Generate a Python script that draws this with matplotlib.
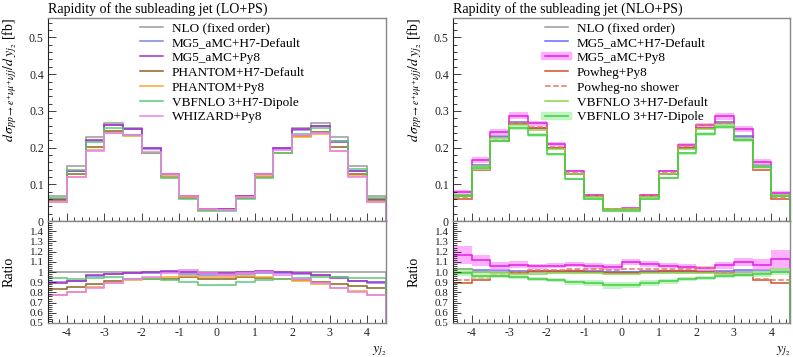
import numpy as np
import matplotlib
matplotlib.use('Agg')
import matplotlib.pyplot as plt
from matplotlib.lines import Line2D
from matplotlib.ticker import MultipleLocator, AutoMinorLocator, FuncFormatter

plt.rcParams['font.family'] = ['Liberation Serif', 'DejaVu Serif']
plt.rcParams['mathtext.fontset'] = 'stix'
plt.rcParams['axes.unicode_minus'] = False

# ---------------- data ----------------
edges = np.arange(-4.5, 4.51, 0.5)

nlo = [0.068, 0.150, 0.228, 0.268, 0.252, 0.198, 0.128, 0.067, 0.032,
       0.032, 0.067, 0.128, 0.198, 0.252, 0.268, 0.228, 0.150, 0.068]

# LO+PS panel
lo_mg5_h7 = [0.0612, 0.1365, 0.2189, 0.2626, 0.2495, 0.1960, 0.1280, 0.0657, 0.0310,
             0.0310, 0.0657, 0.1267, 0.1960, 0.2470, 0.2600, 0.2166, 0.1365, 0.0605]
lo_mg5_py8 = [0.0605, 0.1365, 0.2212, 0.2626, 0.2495, 0.1980, 0.1293, 0.0670, 0.0317,
              0.0317, 0.0670, 0.1293, 0.1980, 0.2495, 0.2600, 0.2143, 0.1365, 0.0612]
lo_phantom_h7 = [0.0564, 0.1275, 0.2006, 0.2439, 0.2344, 0.1841, 0.1190, 0.0637, 0.0298,
                 0.0298, 0.0637, 0.1203, 0.1841, 0.2318, 0.2412, 0.2006, 0.1290, 0.0571]
lo_phantom_py8 = [0.0530, 0.1200, 0.1938, 0.2385, 0.2318, 0.1861, 0.1216, 0.0643, 0.0304,
                  0.0304, 0.0643, 0.1216, 0.1841, 0.2293, 0.2358, 0.1915, 0.1215, 0.0530]
lo_vbfnlo_dip = [0.0639, 0.1395, 0.2143, 0.2546, 0.2344, 0.1841, 0.1178, 0.0603, 0.0278,
                 0.0278, 0.0603, 0.1178, 0.1841, 0.2369, 0.2546, 0.2166, 0.1410, 0.0639]
lo_whizard = [0.0524, 0.1200, 0.1915, 0.2385, 0.2344, 0.1881, 0.1267, 0.0683, 0.0317,
              0.0310, 0.0663, 0.1280, 0.1921, 0.2344, 0.2385, 0.1915, 0.1200, 0.0530]

# NLO+PS panel
nl_mg5_h7 = [0.0700, 0.1530, 0.2326, 0.2707, 0.2545, 0.2000, 0.1293, 0.0677, 0.0320,
             0.0320, 0.0677, 0.1293, 0.2000, 0.2545, 0.2707, 0.2326, 0.1530, 0.0694]
nl_mg5_py8 = [0.0796, 0.1673, 0.2417, 0.2868, 0.2659, 0.2099, 0.1370, 0.0710, 0.0336,
              0.0352, 0.0720, 0.1357, 0.2079, 0.2608, 0.2854, 0.2508, 0.1605, 0.0768]
nl_mg5_py8_err = [0.006, 0.008, 0.009, 0.009, 0.007, 0.005, 0.003, 0.002, 0.001,
                  0.001, 0.002, 0.003, 0.005, 0.007, 0.009, 0.009, 0.008, 0.006]
nl_powheg_py8 = [0.0605, 0.1380, 0.2189, 0.2653, 0.2545, 0.2000, 0.1293, 0.0670, 0.0317,
                 0.0317, 0.0670, 0.1293, 0.2000, 0.2520, 0.2626, 0.2212, 0.1380, 0.0605]
nl_powheg_nosh = [0.0626, 0.1410, 0.2212, 0.2680, 0.2570, 0.2020, 0.1318, 0.0690, 0.0326,
                  0.0330, 0.0690, 0.1318, 0.2039, 0.2621, 0.2680, 0.2234, 0.1395, 0.0626]
nl_vbfnlo_def = [0.0700, 0.1500, 0.2257, 0.2626, 0.2470, 0.1960, 0.1267, 0.0663, 0.0314,
                 0.0314, 0.0663, 0.1267, 0.1960, 0.2495, 0.2626, 0.2234, 0.1500, 0.0700]
nl_vbfnlo_dip = [0.0673, 0.1440, 0.2189, 0.2546, 0.2344, 0.1822, 0.1152, 0.0596, 0.0278,
                 0.0280, 0.0596, 0.1165, 0.1841, 0.2369, 0.2573, 0.2212, 0.1470, 0.0680]
nl_vbfnlo_dip_err = [0.002, 0.004, 0.005, 0.006, 0.005, 0.004, 0.003, 0.002, 0.001,
                     0.001, 0.002, 0.003, 0.004, 0.005, 0.006, 0.005, 0.004, 0.002]

GRAY = '#9a9a9a'
left_series = [
    ('NLO (fixed order)', nlo, GRAY, '-', None),
    ('MG5_aMC+H7-Default', lo_mg5_h7, '#8282e6', '-', None),
    ('MG5_aMC+Py8', lo_mg5_py8, '#a82fc8', '-', None),
    ('PHANTOM+H7-Default', lo_phantom_h7, '#8b6420', '-', None),
    ('PHANTOM+Py8', lo_phantom_py8, '#f0a830', '-', None),
    ('VBFNLO 3+H7-Dipole', lo_vbfnlo_dip, '#5ec878', '-', None),
    ('WHIZARD+Py8', lo_whizard, '#ec82ec', '-', None),
]
right_series = [
    ('NLO (fixed order)', nlo, GRAY, '-', None),
    ('MG5_aMC+H7-Default', nl_mg5_h7, '#6a6aff', '-', None),
    ('MG5_aMC+Py8', nl_mg5_py8, '#e020e0', '-', (nl_mg5_py8_err, '#ff90ff')),
    ('Powheg+Py8', nl_powheg_py8, '#d2502a', '-', None),
    ('Powheg-no shower', nl_powheg_nosh, '#e27a60', '--', None),
    ('VBFNLO 3+H7-Default', nl_vbfnlo_def, '#8cd24a', '-', None),
    ('VBFNLO 3+H7-Dipole', nl_vbfnlo_dip, '#44cc44', '-', (nl_vbfnlo_dip_err, '#a8f0a8')),
]

fig = plt.figure(figsize=(7.93, 3.57), dpi=100)

W, H = 793.0, 357.0


def add_axes(x0, x1, y0, y1):
    return fig.add_axes([x0 / W, 1 - y1 / H, (x1 - x0) / W, (y1 - y0) / H])


def style(ax):
    for s in ['top', 'right', 'bottom']:
        ax.spines[s].set_color('#888888')
        ax.spines[s].set_linewidth(1.0)
    ax.spines['left'].set_color('#222222')
    ax.spines['left'].set_linewidth(0.8)
    ax.tick_params(which='both', direction='in', top=False, right=False,
                   labelsize=8.5, colors='#222222', pad=3)
    ax.tick_params(which='major', length=6, width=0.6)
    ax.tick_params(which='minor', length=3, width=0.6)
    ax.xaxis.set_major_locator(MultipleLocator(1))
    ax.xaxis.set_minor_locator(AutoMinorLocator(5))
    ax.set_xlim(-4.5, 4.5)


def draw(x0, x1, series, title, leg_x, onefmt):
    axm = add_axes(x0, x1, 18, 221)
    axr = add_axes(x0, x1, 221, 323)
    style(axm)
    style(axr)
    ref = np.array(series[0][1])
    handles = []
    for lab, vals, col, ls, band in series:
        vals = np.array(vals)
        if band is not None:
            err, bcol = np.array(band[0]), band[1]
            axm.stairs(vals + err, edges, baseline=vals - err, fill=True,
                       color=bcol, alpha=0.7, lw=0)
            axr.stairs((vals + err) / ref, edges, baseline=(vals - err) / ref,
                       fill=True, color=bcol, alpha=0.7, lw=0)
            h = (Line2D([], [], color=bcol, lw=6, alpha=0.7),
                 Line2D([], [], color=col, lw=1.1, ls=ls))
        else:
            h = Line2D([], [], color=col, lw=1.1, ls=ls)
        axm.stairs(vals, edges, color=col, lw=1.1, ls=ls)
        axr.stairs(vals / ref, edges, color=col, lw=1.1, ls=ls)
        handles.append(h)

    axm.set_ylim(0, 0.553)
    axm.yaxis.set_major_locator(MultipleLocator(0.1))
    axm.yaxis.set_minor_locator(AutoMinorLocator(5))
    axm.yaxis.set_major_formatter(FuncFormatter(lambda v, p: '0' if abs(v) < 1e-9 else f'{v:.1f}'))
    axm.tick_params(axis='x', labelbottom=False)
    axm.set_ylabel(r'$d\,\sigma_{pp\to e^{+}\nu\mu^{+}\nu jj}/d\,y_{j_2}$ [fb]',
                   loc='top', fontsize=10)
    axm.yaxis.set_label_coords(-29.0 / (x1 - x0), 1.0)

    axr.set_ylim(0.5, 1.5)
    axr.yaxis.set_major_locator(MultipleLocator(0.1))
    axr.yaxis.set_minor_locator(AutoMinorLocator(5))

    def rfmt(v, p):
        if v > 1.45:
            return ''
        if abs(v - 1) < 1e-9 and onefmt:
            return '1'
        return f'{v:.1f}'
    axr.yaxis.set_major_formatter(FuncFormatter(rfmt))
    axr.tick_params(axis='y', labelsize=8)
    axr.xaxis.set_major_formatter(FuncFormatter(lambda v, p: f'{int(round(v))}'))
    axr.set_ylabel('Ratio', fontsize=10)
    axr.yaxis.set_label_coords(-32.0 / (x1 - x0), 0.5)
    axr.set_xlabel(r'$y_{j_2}$', loc='right', fontsize=10, labelpad=4)

    fig.text(x0 / W, 1 - 9.5 / H, title, fontsize=10, ha='left', va='center')

    axm.legend(handles, [s[0] for s in series], loc='upper left',
               bbox_to_anchor=((leg_x - x0) / (x1 - x0), 1 - 4 / 203.0),
               frameon=False, fontsize=9.5, handlelength=1.75, handletextpad=0.68,
               labelspacing=0.2, borderaxespad=0, borderpad=0)


draw(48, 386, left_series, 'Rapidity of the subleading jet (LO+PS)', 140, True)
draw(453, 790, right_series, 'Rapidity of the subleading jet (NLO+PS)', 545, False)

fig.savefig('out.png', dpi=100)
